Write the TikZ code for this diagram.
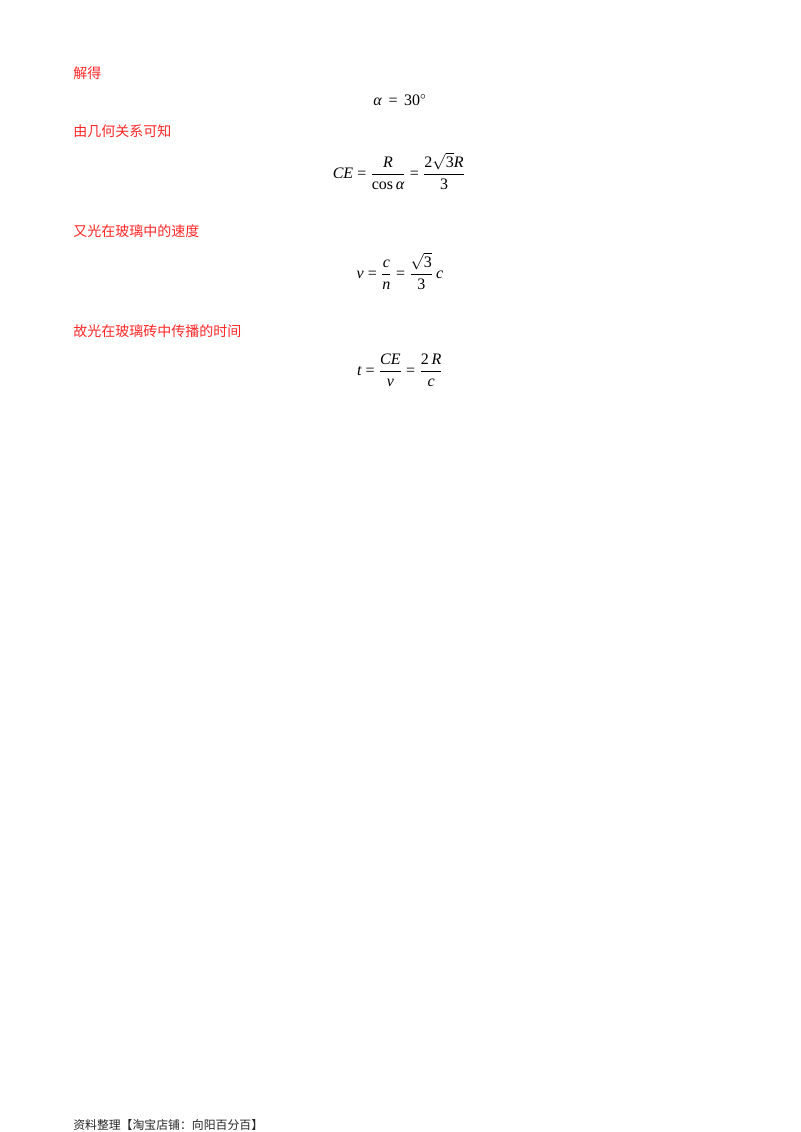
\documentclass[tikz,border=0pt]{standalone}
\usepackage{amsmath}
\usepackage{fontspec}
\setmainfont{Liberation Serif}
\newfontfamily\cjk{Noto Sans CJK SC}[Scale=1]
\usetikzlibrary{positioning}
\newcommand{\vv}[1]{\textit{#1}}
\newcommand{\rr}[1]{\textrm{#1}}
\newcommand{\eq}{\mathrel{\rr{=}}}
\thickmuskip=4.5mu
\begin{document}
\begin{tikzpicture}[x=0.75pt,y=-0.75pt]
                \tikzstyle{every node}+=[inner sep=0pt]
                \tikzstyle{answer}=[anchor=west, text=red!85!white, font=\cjk\fontsize{10.5}{12}\selectfont]
                \tikzstyle{formula}=[font=\fontsize{12}{14}\selectfont]
                \tikzstyle{source}=[anchor=west, text=black!85, font=\cjk\fontsize{8.9}{11}\selectfont]
                \useasboundingbox (0,0) rectangle (800,1132);
                \node [answer] (jiede) at (73,73) {解得};
                \node [formula] (alpha) at (400,100) {$\vv{α}\,\eq\,\rr{30}^\circ$};
                \node [answer] (jihe) at (73,131) {由几何关系可知};
                \node [formula] (ce) at (399,171) {$\vv{CE}\eq\dfrac{\vv{R}}{\rr{cos}\,\vv{α}}\eq\dfrac{\rr{2}\sqrt{\rr{3}}\vv{R}}{\rr{3}}$};
                \node [answer] (sudu) at (73,231) {又光在玻璃中的速度};
                \node [formula] (v) at (400,271) {$\vv{v}\eq\dfrac{\vv{c}}{\vv{n}}\eq\dfrac{\sqrt{\rr{3}}}{\rr{3}}\,\vv{c}$};
                \node [answer] (shijian) at (73,331) {故光在玻璃砖中传播的时间};
                \node [formula] (t) at (400,370) {$\vv{t}\eq\dfrac{\vv{CE}}{\vv{v}}\eq\dfrac{\rr{2}\,\vv{R}}{\vv{c}}$};
                \node [source] (ziliao) at (73,1125) {资料整理【淘宝店铺：向阳百分百】};
\end{tikzpicture}
\end{document}
